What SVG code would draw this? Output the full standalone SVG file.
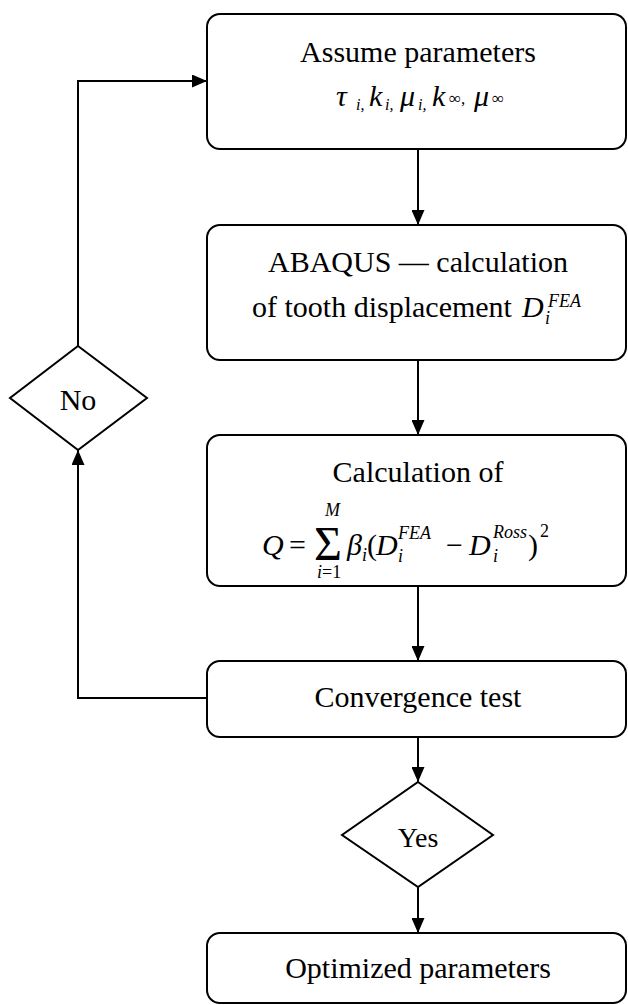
<svg xmlns="http://www.w3.org/2000/svg" width="628" height="1005" viewBox="0 0 628 1005">
<style>
.box{fill:#fff;stroke:#000;stroke-width:2}
.dia{fill:#fff;stroke:#000;stroke-width:2}
.con{fill:none;stroke:#000;stroke-width:2}
text{font-family:"Liberation Serif","Times New Roman",serif;fill:#000}
.t{font-size:30px}
.c{text-anchor:middle}
.it{font-style:italic}
.s{font-size:18px}
.g{font-size:30px;font-style:italic}
.sb{font-size:16px;font-style:italic}
.inf{font-size:17px}
</style>
<defs>
<marker id="ah" viewBox="0 0 15 13" refX="15" refY="6.5" markerWidth="15" markerHeight="13" markerUnits="userSpaceOnUse" orient="auto">
<path d="M0,0 L15,6.5 L0,13 z" fill="#000"/>
</marker>
</defs>
<rect width="628" height="1005" fill="#fff"/>
<g id="connectors">
<line class="con" x1="418" y1="149" x2="418" y2="225" marker-end="url(#ah)"/>
<line class="con" x1="418" y1="360" x2="418" y2="435" marker-end="url(#ah)"/>
<line class="con" x1="418" y1="586" x2="418" y2="661" marker-end="url(#ah)"/>
<line class="con" x1="418" y1="737" x2="418" y2="782" marker-end="url(#ah)"/>
<line class="con" x1="418" y1="887" x2="418" y2="933" marker-end="url(#ah)"/>
<polyline class="con" points="207,698 78,698 78,450" marker-end="url(#ah)"/>
<polyline class="con" points="78,346 78,81 207,81" marker-end="url(#ah)"/>
</g>
<g id="assume">
<rect class="box" x="207" y="14" width="419" height="135" rx="13"/>
<text class="t c" x="418" y="62">Assume parameters</text>
<text class="g" x="336" y="106">τ</text>
<text class="sb" x="356" y="110">i,</text>
<text class="g" x="369" y="106">k</text>
<text class="sb" x="385" y="110">i,</text>
<text class="g" x="400" y="106">μ</text>
<text class="sb" x="418" y="110">i,</text>
<text class="g" x="432" y="106">k</text>
<text class="inf" x="449" y="104">∞,</text>
<text class="g" x="474" y="106">μ</text>
<text class="inf" x="492" y="104">∞</text>
</g>
<g id="abaqus">
<rect class="box" x="207" y="225" width="419" height="135" rx="13"/>
<text class="t c" x="418" y="272">ABAQUS — calculation</text>
<text class="t" x="252" y="317">of tooth displacement <tspan class="it" x="522">D</tspan><tspan class="it s" x="545" y="324">i</tspan><tspan class="it s" x="548" y="307">FEA</tspan></text>
</g>
<g id="calc">
<rect class="box" x="207" y="435" width="419" height="151" rx="13"/>
<text class="t c" x="418" y="482">Calculation of</text>
<text class="t it" x="262" y="555">Q</text>
<text class="t" x="289" y="555">=</text>
<text x="314" y="560" font-size="48">Σ</text>
<text class="it s" x="325" y="516">M</text>
<text class="s" x="317" y="578"><tspan class="it">i</tspan>=1</text>
<text class="t it" x="347" y="555">β</text>
<text class="it s" x="362" y="561">i</text>
<text class="t" x="367" y="555">(</text>
<text class="t it" x="376" y="555">D</text>
<text class="it s" x="398" y="539">FEA</text>
<text class="it s" x="398" y="562">i</text>
<text class="t" x="446" y="555">−</text>
<text class="t it" x="469" y="555">D</text>
<text class="it s" x="493" y="538">Ross</text>
<text class="it s" x="493" y="562">i</text>
<text class="t" x="528" y="555">)</text>
<text class="s" x="540" y="537">2</text>
</g>
<g id="convergence">
<rect class="box" x="207" y="661" width="419" height="76" rx="13"/>
<text class="t c" x="418" y="707">Convergence test</text>
</g>
<g id="no">
<polygon class="dia" points="78,346 147,398 78,450 10,398"/>
<text class="t c" x="78" y="410">No</text>
</g>
<g id="yes">
<polygon class="dia" points="418,782 493,835 418,887 342,835"/>
<text class="c" x="418" y="847" font-size="28">Yes</text>
</g>
<g id="optimized">
<rect class="box" x="207" y="933" width="419" height="70" rx="13"/>
<text class="t c" x="418" y="978">Optimized parameters</text>
</g>
</svg>
